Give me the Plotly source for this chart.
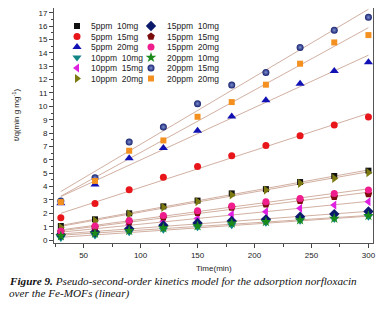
import numpy as np
import plotly.graph_objects as go

time = [30, 60, 90, 120, 150, 180, 210, 240, 270, 300]

s5_10 = [1.05, 1.55, 2.00, 2.52, 2.95, 3.49, 3.81, 4.34, 4.79, 5.19]
s5_15 = [1.67, 2.74, 3.76, 4.70, 5.51, 6.31, 7.08, 7.80, 8.60, 9.21]
s5_20 = [2.75, 4.16, 6.11, 6.88, 8.18, 9.25, 10.45, 11.69, 12.64, 13.29]
s10_10 = [0.15, 0.35, 0.58, 0.78, 0.95, 1.10, 1.30, 1.45, 1.57, 1.74]
s10_15 = [0.50, 0.85, 1.15, 1.40, 1.62, 1.92, 2.12, 2.37, 2.62, 2.87]
s10_20 = [0.95, 1.45, 1.95, 2.45, 2.88, 3.37, 3.74, 4.24, 4.61, 5.04]
s15_10 = [0.40, 0.60, 0.85, 1.10, 1.28, 1.42, 1.55, 1.74, 1.94, 2.14]
s15_15 = [0.60, 0.95, 1.35, 1.70, 2.05, 2.44, 2.67, 2.94, 3.24, 3.44]
s15_20 = [0.67, 1.05, 1.47, 1.84, 2.19, 2.54, 2.87, 3.11, 3.49, 3.74]
s20_10 = [0.30, 0.50, 0.70, 0.90, 1.05, 1.25, 1.37, 1.50, 1.62, 1.82]
s20_15 = [2.92, 4.66, 7.33, 8.45, 10.20, 11.59, 12.54, 14.41, 15.70, 16.66]
s20_20 = [2.84, 4.42, 6.68, 7.45, 9.22, 10.32, 11.62, 13.19, 14.78, 15.33]

labels = ["5ppm  10mg", "5ppm  15mg", "5ppm  20mg",
          "10ppm  10mg", "10ppm  15mg", "10ppm  20mg",
          "15ppm  10mg", "15ppm  15mg", "15ppm  20mg",
          "20ppm  10mg", "20ppm  15mg", "20ppm  20mg"]
series = [s5_10, s5_15, s5_20, s10_10, s10_15, s10_20,
          s15_10, s15_15, s15_20, s20_10, s20_15, s20_20]

caption_1 = "<b><i>Figure 9.</i></b><i> Pseudo-second-order kinetics model for the adsorption norfloxacin</i>"
caption_2 = "<i>over the Fe-MOFs (linear)</i>"

styles = [
    dict(symbol="square", color="#111111", size=6),
    dict(symbol="circle", color="#e8161b", size=7),
    dict(symbol="triangle-up", color="#1212b4", size=8),
    dict(symbol="triangle-down", color="#138585", size=8),
    dict(symbol="triangle-left", color="#e020e0", size=8),
    dict(symbol="triangle-right", color="#7d7a12", size=8),
    dict(symbol="diamond", color="#0c1a6c", size=8),
    dict(symbol="pentagon", color="#7a0c0c", size=8),
    dict(symbol="circle", color="#f01e8c", size=7),
    dict(symbol="star", color="#1a8a1a", size=8),
    dict(symbol="circle", color="#16216e", size=7, gradient=dict(type="radial", color="#7f8fd0")),
    dict(symbol="square", color="#f39020", size=6),
]

fit_color = "#d2b0a2"
fig = go.Figure()

# fit lines
for ys in series:
    k, b = np.polyfit(time, ys, 1)
    xs = [time[0], time[-1]]
    fig.add_trace(go.Scatter(x=xs, y=[k * xx + b for xx in xs], mode="lines",
                             line=dict(color=fit_color, width=1), showlegend=False,
                             hoverinfo="skip"))

# data points
for lab, ys, st in zip(labels, series, styles):
    m = dict(symbol=st["symbol"], color=st["color"], size=st["size"], line=dict(width=0))
    if "gradient" in st:
        m["gradient"] = st["gradient"]
    fig.add_trace(go.Scatter(x=time, y=ys, mode="markers", marker=m, name=lab,
                             showlegend=False, cliponaxis=False))

# page has an 8px body margin: work in window pixels, shift by OFF
OFF = 8
W, H = 385 - OFF, 309 - OFF
L, R, B = 54 - OFF, 373 - OFF, 243 - OFF
T = 0


def px_x(p):
    return (p - OFF - L) / (R - L)


def px_y(p):
    return (B - (p - OFF)) / (B - T)


# custom compact legend (overlay axes in window-pixel units)
col_mx = [77, 151]
col_tx = [89, 165]
row_y0, row_dy = 26.0, 10.5
for i, (lab, st) in enumerate(zip(labels, styles)):
    c, r = divmod(i, 6)
    yy = row_y0 + r * row_dy
    m = dict(symbol=st["symbol"], color=st["color"], size=st["size"], line=dict(width=0))
    if "gradient" in st:
        m["gradient"] = st["gradient"]
    fig.add_trace(go.Scatter(x=[col_mx[c]], y=[yy], mode="markers", marker=m,
                             xaxis="x2", yaxis="y2", showlegend=False, hoverinfo="skip"))
    fig.add_annotation(x=col_tx[c], y=yy, xref="x2", yref="y2", text=lab,
                       showarrow=False, xanchor="left", yanchor="middle",
                       font=dict(family="Liberation Sans, Arial", size=8.5, color="#222"))

axis_font = dict(family="Liberation Sans, Arial", size=8, color="#222")
y_lo, y_hi = -0.22, 17.43
# reference plot top sits at window y=7 (figure y=-1); plot top here is figure y=0
y_hi_adj = y_hi - 1 * (y_hi - y_lo) / (243 - 7)
fig.update_layout(
    width=W, height=H,
    margin=dict(l=L, r=W - R, t=T, b=H - B, autoexpand=False),
    paper_bgcolor="white", plot_bgcolor="white",
    showlegend=False,
    xaxis=dict(range=[24, 304], dtick=50, tick0=0, ticks="outside", ticklen=4,
               tickwidth=1, tickcolor="#444", showline=True, linecolor="#555",
               linewidth=1, mirror=True, showgrid=False, zeroline=False,
               tickfont=axis_font, automargin=False,
               minor=dict(dtick=25, ticks="outside", ticklen=2.5, tickcolor="#444")),
    yaxis=dict(range=[y_lo, y_hi_adj], dtick=1, tick0=0, ticks="outside", ticklen=4,
               tickwidth=1, tickcolor="#444", showline=True, linecolor="#555",
               linewidth=1, mirror=True, showgrid=False, zeroline=False,
               tickfont=axis_font, automargin=False,
               minor=dict(dtick=0.5, ticks="outside", ticklen=2.5, tickcolor="#444")),
    xaxis2=dict(range=[L + OFF, R + OFF], overlaying="x", visible=False, domain=[0, 1]),
    yaxis2=dict(range=[B + OFF, T + OFF], overlaying="y", visible=False),
)

# axis titles
fig.add_annotation(x=px_x(214), y=px_y(268.5), xref="paper", yref="paper",
                   text="Time(min)", showarrow=False, xanchor="center", yanchor="middle",
                   font=axis_font)
fig.add_annotation(x=px_x(16), y=px_y(115), xref="paper", yref="paper",
                   text="t/q(min g mg<sup>-1</sup>)", showarrow=False, textangle=-90,
                   xanchor="center", yanchor="middle", font=axis_font)

# caption, two lines
cap_font = dict(family="Liberation Serif, Times New Roman", size=11.2, color="#111")
for txt, yc in ((caption_1, 281.0), (caption_2, 293.5)):
    fig.add_annotation(x=px_x(8), y=px_y(yc), xref="paper", yref="paper",
                       xanchor="left", yanchor="middle", align="left", showarrow=False,
                       borderpad=0, text=txt, font=cap_font)

fig.write_html("out.html")
